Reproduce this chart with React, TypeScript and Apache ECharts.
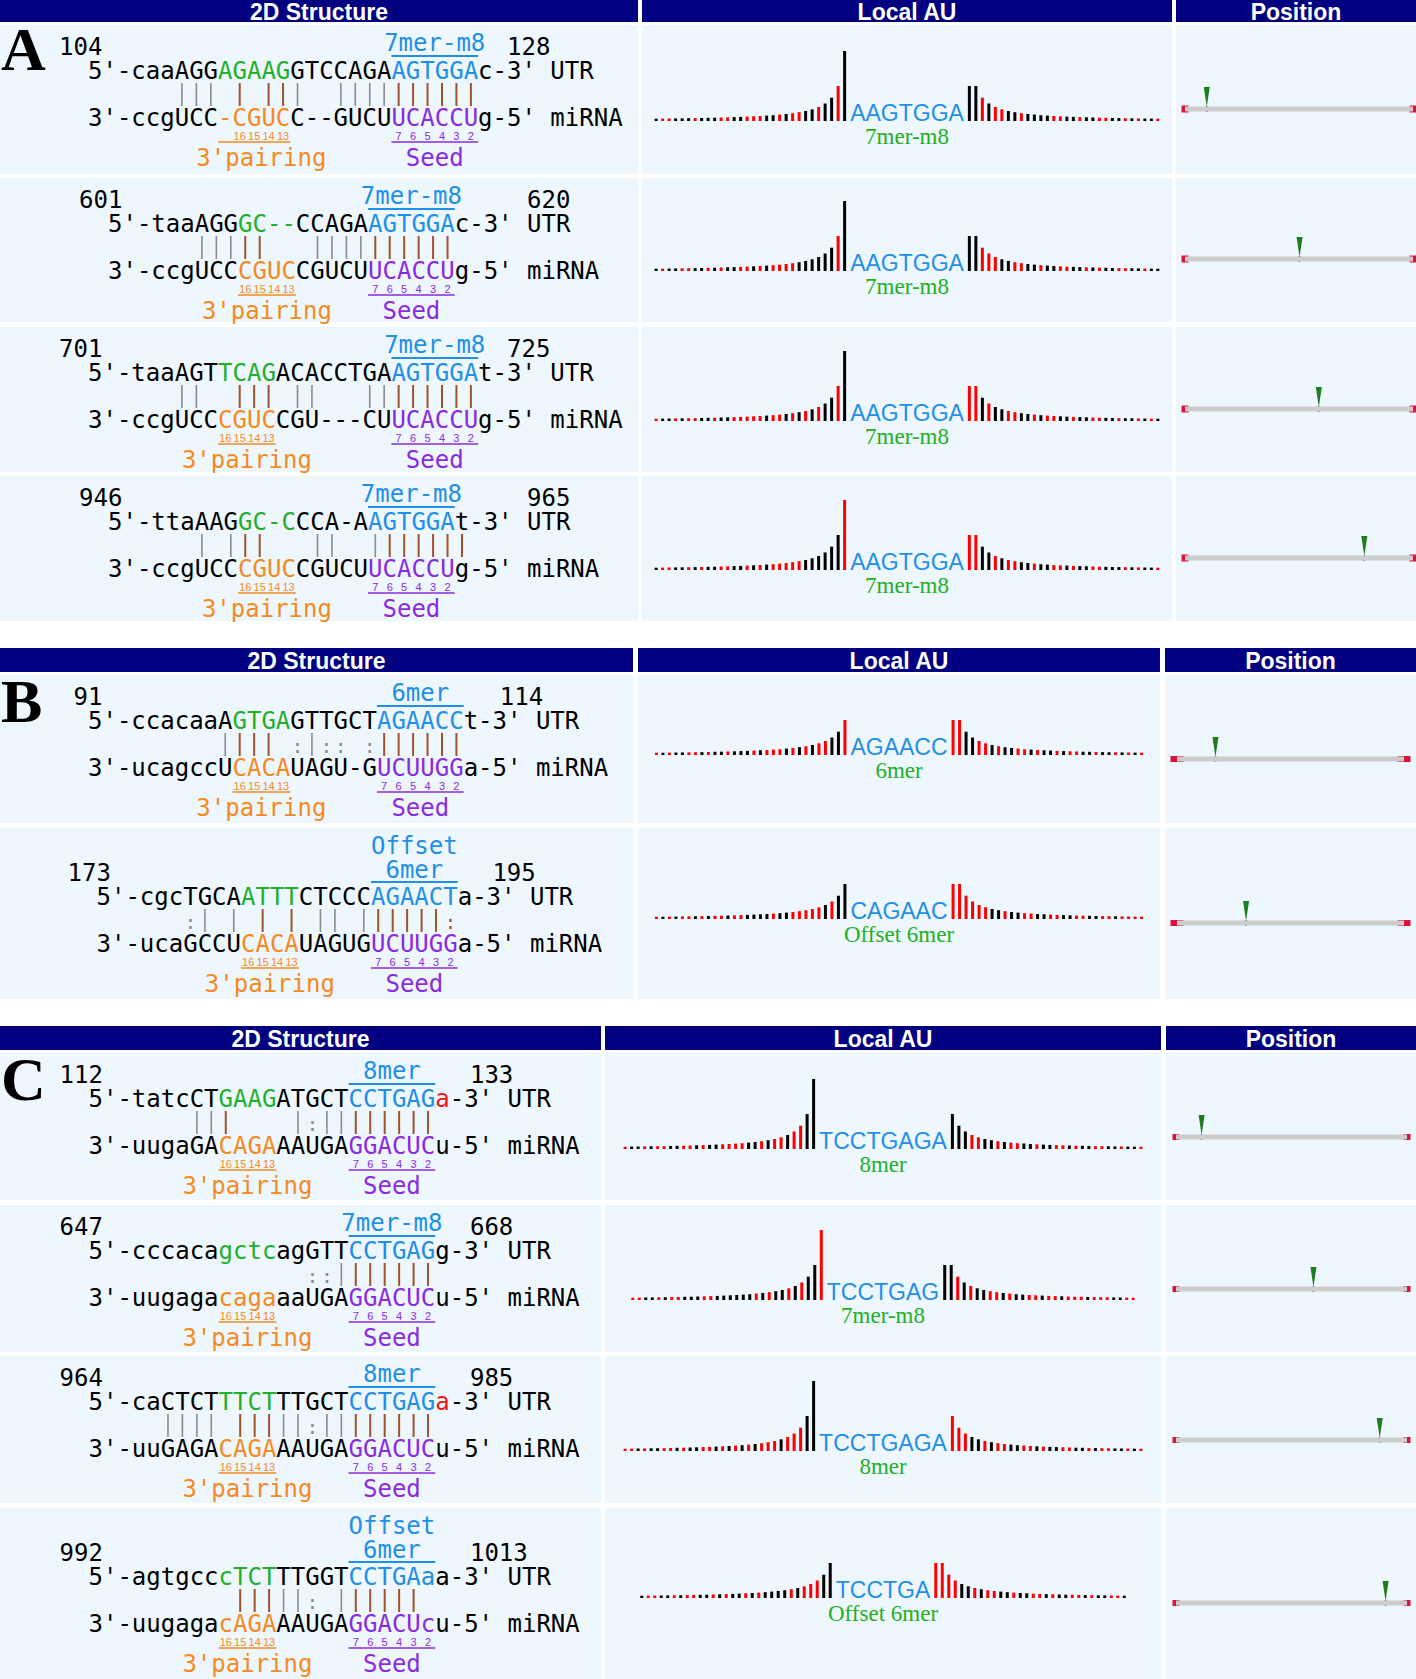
import React, { useEffect, useRef } from "react";
import * as echarts from "echarts";

// ---------------- data ----------------
const PANEL_LETTERS = ["A", "B", "C"];
const HEADER_TITLES = ["2D Structure", "Local AU", "Position"];
const ROW_PANEL = [0, 0, 0, 0, 1, 1, 2, 2, 2, 2];
const SITE_START = [104, 601, 701, 946, 91, 173, 112, 647, 964, 992];
const SITE_END = [128, 620, 725, 965, 114, 195, 133, 668, 985, 1013];
const SITE_TYPE = ["7mer-m8", "7mer-m8", "7mer-m8", "7mer-m8", "6mer", "Offset 6mer", "8mer", "7mer-m8", "8mer", "Offset 6mer"];
const SITE_SEQ = ["AAGTGGA", "AAGTGGA", "AAGTGGA", "AAGTGGA", "AGAACC", "CAGAAC", "TCCTGAGA", "TCCTGAG", "TCCTGAGA", "TCCTGA"];
const UTR_LENGTH = [1215, 605, 1105];

const UTR_SEQ = [
  "5'-caaAGGAGAAGGTCCAGAAGTGGAc-3'",
  "5'-taaAGGGC--CCAGAAGTGGAc-3'",
  "5'-taaAGTTCAGACACCTGAAGTGGAt-3'",
  "5'-ttaAAGGC-CCCA-AAGTGGAt-3'",
  "5'-ccacaaAGTGAGTTGCTAGAACCt-3'",
  "5'-cgcTGCAATTTCTCCCAGAACTa-3'",
  "5'-tatcCTGAAGATGCTCCTGAGa-3'",
  "5'-cccacagctcagGTTCCTGAGg-3'",
  "5'-caCTCTTTCTTTGCTCCTGAGa-3'",
  "5'-agtgcccTCTTTGGTCCTGAaa-3'",
];
const UTR_COLOR = [
  "kkkkkkkkkgggggkkkkkkkbbbbbbkkkk",
  "kkkkkkkkkggggkkkkkbbbbbbkkkk",
  "kkkkkkkkkggggkkkkkkkkbbbbbbkkkk",
  "kkkkkkkkkggggkkkkkbbbbbbkkkk",
  "kkkkkkkkkkggggkkkkkkbbbbbbkkkk",
  "kkkkkkkkkkggggkkkkkbbbbbbkkkk",
  "kkkkkkkkkggggkkkkkbbbbbbrkkk",
  "kkkkkkkkkggggkkkkkbbbbbbkkkk",
  "kkkkkkkkkggggkkkkkbbbbbbrkkk",
  "kkkkkkkkkggggkkkkkbbbbbbkkkk",
];
const MIR_SEQ = [
  "3'-ccgUCC-CGUCC--GUCUUCACCUg-5'",
  "3'-ccgUCCCGUCCGUCUUCACCUg-5'",
  "3'-ccgUCCCGUCCGU---CUUCACCUg-5'",
  "3'-ccgUCCCGUCCGUCUUCACCUg-5'",
  "3'-ucagccUCACAUAGU-GUCUUGGa-5'",
  "3'-ucaGCCUCACAUAGUGUCUUGGa-5'",
  "3'-uugaGACAGAAAUGAGGACUCu-5'",
  "3'-uugagacagaaaUGAGGACUCu-5'",
  "3'-uuGAGACAGAAAUGAGGACUCu-5'",
  "3'-uugagacAGAAAUGAGGACUcu-5'",
];
const MIR_COLOR = [
  "kkkkkkkkkoooookkkkkkkppppppkkkk",
  "kkkkkkkkkooookkkkkppppppkkkk",
  "kkkkkkkkkooookkkkkkkkppppppkkkk",
  "kkkkkkkkkooookkkkkppppppkkkk",
  "kkkkkkkkkkookkkkkkkk".slice(0, 0) + "kkkkkkkkkkooookkkkkkppppppkkkk",
  "kkkkkkkkkkooookkkkkppppppkkkk",
  "kkkkkkkkkooookkkkkppppppkkkk",
  "kkkkkkkkkooookkkkkppppppkkkk",
  "kkkkkkkkkooookkkkkppppppkkkk",
  "kkkkkkkkkooookkkkkppppppkkkk",
];
// | gray pair, B brown pair, : gray wobble, b brown wobble
const PAIRING = [
  "      ||| B BB|  ||||BBBBBB    ",
  "      |||BB   ||||BBBBBB    ",
  "      ||  BBB ||   ||BBBBBB    ",
  "      | |BB   ||  |BBBBBB    ",
  "         |BBB :|:: :BBBBBB    ",
  "      :| | B B || |BBBBBb    ",
  "       ||B    |:||BBBBBB    ",
  "               ::|BBBBBB    ",
  "     |||| BBB||:||BBBBBB    ",
  "          BBB||: |BBBBB     ",
];

// Local AU bar colours (R = A/U red, K = G/C black), in screen order
const AU_LEFT_COLORS = [
  "KRRKKKRKKKRRKKRRRKKRKRRKKRKKRK",
  "KRKKRRKKRKRKKRRKRKRRRRKKKKKKRK",
  "RKKRKRRKKRKKRRRRRKRRKRKRKRKKRK",
  "KRRKKRKRKKRRKKRKRKRRRRRKKKKKKR",
  "RKRKKRRKRKKRKKKRKRRRKRKRKRRKKR",
  "RKRKRRKRKRRKRRKKKKRKKRRRRRKRKK",
  "RKKRKRRKKRRKRKKRRRRKKRKRRKRRKK",
  "RRKKRKRRKKKRRKKKKKKRKRKKRKRKKR",
  "RRKRKKRRKRKKRRKRKRKRKRRRKRRRKK",
  "KRRKKRKRRKKRKRKKRKRKKKKRKRRRKK",
];
const AU_RIGHT_COLORS = [
  "KKRKRRKKRKKKKRRKKRKKRRKKRKRKKR",
  "KKRRRKKRRKKRKKRRKKRKRKKRRKKRKK",
  "RRKRKKRRKKRKRRKKRKKRRKKRKKRKRK",
  "RRKKRKRRKKRKKRRKRKKRRKKKRKRKKR",
  "RRKKRRKRKKRRKRKKRKRRKKRKKRKRKR",
  "RRRRRRKKRKKRRKKRRKKRRKKRRKRRRR",
  "KKKRRKKRKRRKKRKKRRKRKKRRKKRKKR",
  "KKRKRKKRRKRKKRRKRRKRRRKRRRKKRR",
  "RRRKKRKRRKKRRKRKKRRKKRKRRKKRKR",
  "RRRRKKRKRRKKRKKRRKRKKRRKRKKRRK",
];
// bar heights, nearest to site first
const H_7MER_LEFT = [70, 35, 23.3, 17.5, 14, 11.7, 10, 8.8, 7.8, 7, 6.4, 5.8, 5.4, 5, 4.7, 4.4, 4.1, 3.9, 3.7, 3.5, 3.3, 3.2, 3, 2.9, 2.8, 2.7, 2.6, 2.5, 2.4, 2.3];
const H_7MER_RIGHT = [35, 35, 23.3, 17.5, 14, 11.7, 10, 8.8, 7.8, 7, 6.4, 5.8, 5.4, 5, 4.7, 4.4, 4.1, 3.9, 3.7, 3.5, 3.3, 3.2, 3, 2.9, 2.8, 2.7, 2.6, 2.5, 2.4, 2.3];
const H_8MER_LEFT = [70, 35, 23.3, 17.5, 14, 11.7, 10, 8.8, 7.8, 7, 6.4, 5.8, 5.4, 5, 4.7, 4.4, 4.1, 3.9, 3.7, 3.5, 3.3, 3.2, 3, 2.9, 2.8, 2.7, 2.6, 2.5, 2.4, 2.3];
const H_8MER_RIGHT = [35, 23.3, 17.5, 14, 11.7, 10, 8.8, 7.8, 7, 6.4, 5.8, 5.4, 5, 4.7, 4.4, 4.1, 3.9, 3.7, 3.5, 3.3, 3.2, 3, 2.9, 2.8, 2.7, 2.6, 2.5, 2.4, 2.3, 2.3];
const H_6MER_LEFT = [35, 23.3, 17.5, 14, 11.7, 10, 8.8, 7.8, 7, 6.4, 5.8, 5.4, 5, 4.7, 4.4, 4.1, 3.9, 3.7, 3.5, 3.3, 3.2, 3, 2.9, 2.8, 2.7, 2.6, 2.5, 2.4, 2.3, 2.3];
const H_6MER_RIGHT = [35, 35, 23.3, 17.5, 14, 11.7, 10, 8.8, 7.8, 7, 6.4, 5.8, 5.4, 5, 4.7, 4.4, 4.1, 3.9, 3.7, 3.5, 3.3, 3.2, 3, 2.9, 2.8, 2.7, 2.6, 2.5, 2.4, 2.3];
const HEIGHTS_BY_TYPE: Record<string, number[][]> = {
  "7mer-m8": [H_7MER_LEFT, H_7MER_RIGHT],
  "8mer": [H_8MER_LEFT, H_8MER_RIGHT],
  "6mer": [H_6MER_LEFT, H_6MER_RIGHT],
  "Offset 6mer": [H_6MER_LEFT, H_6MER_RIGHT],
};
const THREE_PRIME_NUMS = ["16", "15", "14", "13"];
const SEED_NUMS = ["7", "6", "5", "4", "3", "2"];

// ---------------- layout / style ----------------
const W = 1416;
const H = 1679;
const MONO = "'DejaVu Sans Mono', monospace";
const SANS = "'Liberation Sans', Arial, sans-serif";
const SERIF = "'Liberation Serif', 'Times New Roman', serif";
const FS = 24;
const CW = FS * 0.602;
const COLOR: Record<string, string> = { k: "#000000", g: "#22B02A", b: "#1F8FE8", r: "#F01818", o: "#F58A1F", p: "#8A2BE2" };
const BROWN = "#A0522D";
const GRAY = "#8C8C8C";
const NAVY = "#000080";
const CELL = "#EEF6FE";
const AU_RED = "#FF0000";
const AU_BLACK = "#000000";

const HEADER_Y = [0, 648, 1026];
const HEADER_H = [22, 24, 24];
const COLS = [
  [[0, 638], [642, 1172], [1176, 1416]],
  [[0, 633], [638, 1160], [1165, 1416]],
  [[0, 601], [605, 1161], [1166, 1416]],
];
const LETTER_Y = [49, 701, 1079];
const ROW_TOP = [25, 178, 327, 476, 675, 828, 1053, 1205, 1356, 1508];
const ROW_H = [149, 144, 145, 145, 148, 171, 147, 147, 147, 171];
const X0 = [88, 108, 88, 108, 88, 96.5, 88.5, 88.5, 88.5, 88.5];
const END_COL = [29, 29, 29, 29, 28.5, 27.4, 26.4, 26.4, 26.4, 26.4];
const AU_BASE = [121, 271, 421, 570, 755, 919, 1149, 1300, 1451, 1598];
const TRACK_Y = [109, 259, 409, 558, 759, 923, 1137, 1289, 1440, 1603];
const TRACK_X = [[1185, 1413], [1177, 1404], [1176, 1407]];
const CAP_SIZE = [[7, 7], [13, 6], [7, 6]];
const BAR_PITCH = 6.5;

function measure(s: string, font: string): number {
  const c = document.createElement("canvas").getContext("2d");
  if (!c) return s.length * 14;
  c.font = font;
  return c.measureText(s).width;
}

function colorRuns(seq: string, col: string) {
  const out: { start: number; text: string; c: string }[] = [];
  let s = 0;
  for (let i = 1; i <= seq.length; i++) {
    if (i === seq.length || col[i] !== col[s]) {
      out.push({ start: s, text: seq.slice(s, i), c: col[s] });
      s = i;
    }
  }
  return out;
}

function regionOf(col: string, ch: string) {
  return [col.indexOf(ch), col.lastIndexOf(ch)];
}

function buildOption() {
  const graphics: any[] = [];
  const grids: any[] = [];
  const xAxes: any[] = [];
  const yAxes: any[] = [];
  const series: any[] = [];

  const txt = (x: number, y: number, text: string, font: string, fill: string, align = "left", z = 5, lineHeight?: number) =>
    graphics.push({
      type: "text", x, y, z, silent: true,
      style: { text, font, fill, align, verticalAlign: "middle", ...(lineHeight ? { lineHeight } : {}) },
    });
  const ln = (x1: number, y1: number, x2: number, y2: number, stroke: string, lineWidth: number) =>
    graphics.push({ type: "line", z: 4, silent: true, shape: { x1, y1, x2, y2 }, style: { stroke, lineWidth } });

  // headers
  for (let p = 0; p < 3; p++) {
    COLS[p].forEach((c, j) => {
      graphics.push({ type: "rect", z: 1, silent: true, shape: { x: c[0], y: HEADER_Y[p], width: c[1] - c[0], height: HEADER_H[p] }, style: { fill: NAVY } });
      txt((c[0] + c[1]) / 2, HEADER_Y[p] + HEADER_H[p] / 2 + 1, HEADER_TITLES[j], `bold 23px ${SANS}`, "#ffffff", "center");
    });
  }

  const auFont = `23px ${SANS}`;

  for (let r = 0; r < ROW_TOP.length; r++) {
    const p = ROW_PANEL[r];
    const cols = COLS[p];
    const top = ROW_TOP[r];
    const h = ROW_H[r];
    cols.forEach((c) => {
      graphics.push({ type: "rect", z: 1, silent: true, shape: { x: c[0], y: top, width: c[1] - c[0], height: h }, style: { fill: CELL } });
    });

    const type = SITE_TYPE[r];
    const twoLine = type.indexOf("Offset") === 0;
    const utrY = top + 46 + (twoLine ? 23 : 0);
    const mirY = utrY + 47;
    const x0 = X0[r];
    const colX = (i: number) => x0 + i * CW;
    const colC = (i: number) => x0 + (i + 0.5) * CW;
    const mono = `${FS}px ${MONO}`;

    // sequences
    colorRuns(UTR_SEQ[r], UTR_COLOR[r]).forEach((run) => txt(colX(run.start), utrY, run.text, mono, COLOR[run.c]));
    txt(colX(UTR_SEQ[r].length + 1), utrY, "UTR", mono, "#000");
    colorRuns(MIR_SEQ[r], MIR_COLOR[r]).forEach((run) => txt(colX(run.start), mirY, run.text, mono, COLOR[run.c]));
    txt(colX(MIR_SEQ[r].length + 1), mirY, "miRNA", mono, "#000");

    // pairing marks
    const pr = PAIRING[r];
    for (let i = 0; i < pr.length; i++) {
      const ch = pr[i];
      if (ch === "|") ln(colC(i), utrY + 12, colC(i), mirY - 12, GRAY, 1.6);
      else if (ch === "B") ln(colC(i), utrY + 12, colC(i), mirY - 12, BROWN, 2);
      else if (ch === ":") txt(colC(i), (utrY + mirY) / 2 + 1, ":", `19px ${MONO}`, GRAY, "center");
      else if (ch === "b") txt(colC(i), (utrY + mirY) / 2 + 1, ":", `19px ${MONO}`, BROWN, "center");
    }

    // position numbers
    txt(colX(1), utrY - 24, String(SITE_START[r]), mono, "#000", "right");
    txt(colX(END_COL[r]), utrY - 24, String(SITE_END[r]), mono, "#000", "left");

    // site label over blue region
    const [bf, bl] = regionOf(UTR_COLOR[r], "b");
    const siteCx = (colX(bf) + colX(bl + 1)) / 2;
    if (twoLine) {
      txt(siteCx, utrY - 39, type.replace(" ", "\n"), mono, COLOR.b, "center", 5, 24);
    } else {
      txt(siteCx, utrY - 28, type, mono, COLOR.b, "center");
    }
    ln(colX(bf), utrY - 15, colX(bl + 1), utrY - 15, COLOR.b, 2);

    // 3' pairing numbers
    const [of, ol] = regionOf(MIR_COLOR[r], "o");
    const ocols: number[] = [];
    for (let i = of; i <= ol; i++) if (MIR_SEQ[r][i] !== "-") ocols.push(i);
    const oc = ocols.slice(-4);
    oc.forEach((ci, k) => txt(colC(ci), mirY + 18, THREE_PRIME_NUMS[k], `11px ${SANS}`, COLOR.o, "center"));
    ln(colX(of), mirY + 24, colX(ol + 1), mirY + 24, COLOR.o, 1.5);
    const oCenter = (colX(oc[0]) + colX(oc[oc.length - 1] + 1)) / 2;
    txt(oCenter, mirY + 40, "3'pairing", mono, COLOR.o, "center");

    // seed numbers
    const [pf, pl] = regionOf(MIR_COLOR[r], "p");
    for (let i = pf; i <= pl; i++) txt(colC(i), mirY + 18, SEED_NUMS[i - pf], `11px ${SANS}`, COLOR.p, "center");
    ln(colX(pf), mirY + 24, colX(pl + 1), mirY + 24, COLOR.p, 1.5);
    txt((colX(pf) + colX(pl + 1)) / 2, mirY + 40, "Seed", mono, COLOR.p, "center");

    // ----- Local AU -----
    const cx = (cols[1][0] + cols[1][1]) / 2;
    const base = AU_BASE[r];
    const seq = SITE_SEQ[r];
    const tw = measure(seq, auFont);
    txt(cx, base - 8, seq, auFont, COLOR.b, "center");
    txt(cx, base + 15, type, `23px ${SERIF}`, "#22B022", "center");
    const [hl, hr] = HEIGHTS_BY_TYPE[type];
    const gw = 30 * BAR_PITCH;
    const leftGridX = cx - tw / 2 - 2.25 - gw;
    const rightGridX = cx + tw / 2 + 2.25;
    const sides = [
      { x: leftGridX, colors: AU_LEFT_COLORS[r], heights: hl.slice().reverse(), cats: hl.map((_, i) => "-" + (30 - i)) },
      { x: rightGridX, colors: AU_RIGHT_COLORS[r], heights: hr, cats: hr.map((_, i) => "+" + (i + 1)) },
    ];
    sides.forEach((sd) => {
      const gi = grids.length;
      grids.push({ left: sd.x, top: base - 70, width: gw, height: 70, containLabel: false, show: false });
      xAxes.push({ type: "category", gridIndex: gi, data: sd.cats, show: false, boundaryGap: true });
      yAxes.push({ type: "value", gridIndex: gi, min: 0, max: 70, show: false });
      series.push({
        type: "bar",
        xAxisIndex: gi,
        yAxisIndex: gi,
        barWidth: 3,
        silent: true,
        data: sd.heights.map((v, i) => ({ value: v, itemStyle: { color: sd.colors[i] === "R" ? AU_RED : AU_BLACK } })),
      });
    });

    // ----- Position -----
    const len = UTR_LENGTH[p];
    const tx = TRACK_X[p];
    const ty = TRACK_Y[r];
    const pos = (SITE_START[r] + SITE_END[r]) / 2;
    const gi = grids.length;
    grids.push({ left: tx[0], top: ty - 20, width: tx[1] - tx[0], height: 40, containLabel: false, show: false });
    xAxes.push({ type: "value", gridIndex: gi, min: 0, max: len, show: false });
    yAxes.push({ type: "value", gridIndex: gi, min: -1, max: 1, show: false });
    series.push({
      type: "line", xAxisIndex: gi, yAxisIndex: gi, silent: true, symbol: "none",
      lineStyle: { color: "#CCCCCC", width: 5 }, data: [[0, 0], [len, 0]],
    });
    series.push({
      type: "scatter", xAxisIndex: gi, yAxisIndex: gi, silent: true, symbol: "rect",
      symbolSize: CAP_SIZE[p], itemStyle: { color: "#DC143C", opacity: 1 }, data: [[0, 0], [len, 0]],
    });
    series.push({
      type: "scatter", xAxisIndex: gi, yAxisIndex: gi, silent: true, symbol: "rect",
      symbolSize: [2, 6], itemStyle: { color: "#4A7FB0", opacity: 1 }, data: [[pos, 0]],
    });
    series.push({
      type: "scatter", xAxisIndex: gi, yAxisIndex: gi, silent: true,
      symbol: "path://M0 0 L10 0 L5 34 Z", symbolSize: [6, 20], symbolOffset: [0, -12],
      itemStyle: { color: "#1E7B1E", opacity: 1 }, data: [[pos, 0]],
    });
  }

  // panel letters
  PANEL_LETTERS.forEach((L, p) => {
    txt(1, LETTER_Y[p], L, `bold 62px ${SERIF}`, "#000", "left", 6);
  });

  return {
    animation: false,
    backgroundColor: "#ffffff",
    grid: grids,
    xAxis: xAxes,
    yAxis: yAxes,
    series,
    graphic: { elements: graphics },
  };
}

export default function App() {
  const ref = useRef<HTMLDivElement>(null);
  useEffect(() => {
    if (!ref.current) return;
    const chart = echarts.init(ref.current, null, { renderer: "svg", width: W, height: H });
    chart.setOption(buildOption() as any);
    return () => chart.dispose();
  }, []);
  return <div ref={ref} style={{ position: "absolute", left: 0, top: 0, width: W, height: H, background: "#fff" }} />;
}
